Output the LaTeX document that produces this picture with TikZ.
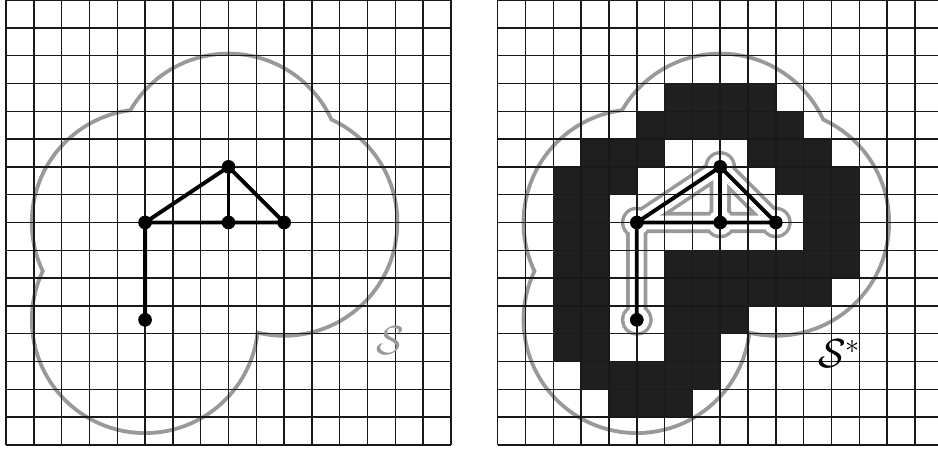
\documentclass[tikz,border=0pt]{standalone}
\definecolor{outlinegray}{gray}{0.6}
\definecolor{cellblack}{gray}{0.12}

\begin{document}
\begin{tikzpicture}[x=0.5cm, y=0.5cm,
    vertex/.style={circle, fill=black, inner sep=0pt, minimum size=7pt},
    edge/.style={line width=2pt, line join=round},
    gridlines/.style={black!90, line width=0.75pt, step=0.5cm},
    region/.style={outlinegray, line width=4pt},
    blockcell/.style={fill=cellblack},
    tubeout/.style={outlinegray, line width=0.38cm, line cap=round, line join=round},
    tubein/.style={white, line width=0.25cm, line cap=round, line join=round},
    setlabel/.style={anchor=base west, inner sep=0pt, font=\huge}]
\useasboundingbox (-0.216,-0.18) rectangle (33.51,16.0);
\clip (-0.216,-0.18) rectangle (33.51,16.0);

% Left grid: the set S around the graph
\begin{scope}
\coordinate (l1) at (5,8);
\coordinate (l2) at (8,10);
\coordinate (l3) at (8,8);
\coordinate (l4) at (10,8);
\coordinate (l5) at (5,4.5);

\foreach \x/\y in {5/8, 8/10, 8/8, 10/8, 5/4.5} {
    \draw[region] (\x,\y) circle (4);
}
\foreach \x/\y in {5/8, 8/10, 8/8, 10/8, 5/4.5} {
    \fill[white] (\x,\y) circle (4);
}

\draw[gridlines] (0,0) grid (16,16);

% Graph
\draw[edge] (l5) -- (l1) -- (l2) -- (l4) -- (l3) -- (l1);
\draw[edge] (l2) -- (l3);
\node[vertex] (ldot1) at (l1) {};
\node[vertex] (ldot2) at (l2) {};
\node[vertex] (ldot3) at (l3) {};
\node[vertex] (ldot4) at (l4) {};
\node[vertex] (ldot5) at (l5) {};

\node[setlabel, text=outlinegray] (lS) at (13.3,3.27) {$\mathcal{S}$};
\end{scope}

% Right grid: the cells of S*
\begin{scope}[xshift=8.84cm]
\coordinate (r1) at (5,8);
\coordinate (r2) at (8,10);
\coordinate (r3) at (8,8);
\coordinate (r4) at (10,8);
\coordinate (r5) at (5,4.5);

\foreach \x/\y in {5/8, 8/10, 8/8, 10/8, 5/4.5} {
    \draw[region] (\x,\y) circle (4);
}
\foreach \x/\y in {5/8, 8/10, 8/8, 10/8, 5/4.5} {
    \fill[white] (\x,\y) circle (4);
}

% Thin tube round the graph
\draw[tubeout] (r5) -- (r1) -- (r2) -- (r4) -- (r3) -- (r1) (r2) -- (r3);
\foreach \x/\y in {5/8, 8/10, 8/8, 10/8, 5/4.5} {
    \fill[outlinegray] (\x,\y) circle (0.57);
}
\draw[tubein] (r5) -- (r1) -- (r2) -- (r4) -- (r3) -- (r1) (r2) -- (r3);
\foreach \x/\y in {5/8, 8/10, 8/8, 10/8, 5/4.5} {
    \fill[white] (\x,\y) circle (0.45);
}

% Black cells (runs x1 to x2 in row y)
\foreach \a/\b/\y in {6/10/12, 5/11/11, 3/6/10, 9/12/10, 2/5/9, 10/13/9,
    2/4/8, 11/13/8, 2/4/7, 11/13/7, 2/4/6, 6/13/6, 2/4/5, 6/12/5,
    2/4/4, 6/9/4, 2/4/3, 6/8/3, 3/8/2, 4/7/1} {
    \fill[blockcell] (\a,\y) rectangle (\b,\y+1);
}

\draw[gridlines] (0,0) grid (16,16);

% Graph
\draw[edge] (r5) -- (r1) -- (r2) -- (r4) -- (r3) -- (r1);
\draw[edge] (r2) -- (r3);
\node[vertex] (rdot1) at (r1) {};
\node[vertex] (rdot2) at (r2) {};
\node[vertex] (rdot3) at (r3) {};
\node[vertex] (rdot4) at (r4) {};
\node[vertex] (rdot5) at (r5) {};

\node[setlabel] (rS) at (11.51,2.77) {$\mathcal{S}^*$};
\end{scope}

\end{tikzpicture}
\end{document}
